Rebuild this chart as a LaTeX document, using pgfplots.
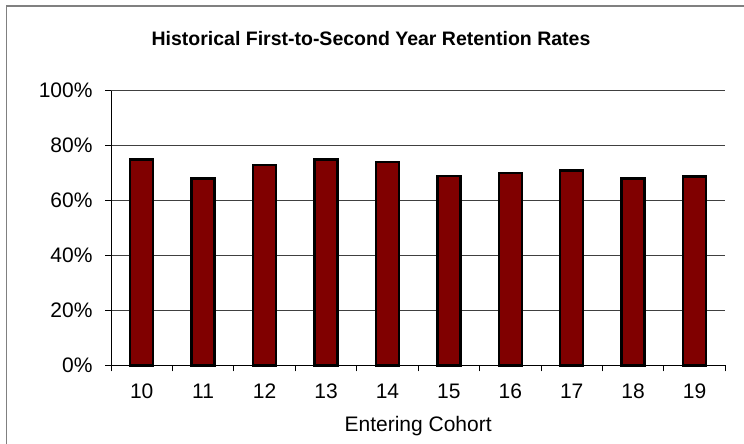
\documentclass[border=0pt]{standalone}
\usepackage{fontspec}
\setmainfont{Liberation Sans}
\usepackage{pgfplots}
\pgfplotsset{compat=1.18}
\definecolor{barred}{HTML}{800000}
\definecolor{framegray}{HTML}{808080}
\begin{document}
\begin{tikzpicture}[x=1pt,y=1pt]
\useasboundingbox (0,0) rectangle (744,-444);
\draw[framegray, line width=2pt] (6,-6) -- (744,-6);
\draw[framegray, line width=1.5pt] (6.5,-6) -- (6.5,-444);
\node[font=\fontsize{19.5}{23}\selectfont\bfseries, anchor=base, inner sep=0pt] at (371,-45.3) {Historical First-to-Second Year Retention Rates};
\begin{axis}[
  at={(111pt,-365.3pt)}, anchor=south west,
  scale only axis, width=614.3pt, height=274.6pt,
  xmin=0.5, xmax=10.5, ymin=0, ymax=100,
  axis lines*=left,
  axis line style={black, line width=1pt},
  ybar, bar width=23pt,
  xtick={0.5,1.5,...,10.5},
  x tick label as interval,
  xticklabels={10,11,12,13,14,15,16,17,18,19},
  ytick={0,20,40,60,80,100},
  yticklabels={0\%,20\%,40\%,60\%,80\%,100\%},
  tick align=outside,
  major tick length=6pt,
  tick style={black, line width=1pt},
  ymajorgrids,
  grid style={black!75, line width=1pt},
  ticklabel style={font=\fontsize{21}{24}\selectfont},
  xticklabel style={yshift=-9pt},
  yticklabel style={xshift=-9pt},
  xlabel={Entering Cohort},
  xlabel style={font=\fontsize{21}{24}\selectfont, at={(axis description cs:0.5,0)}, anchor=base, yshift=-65.7pt},
  clip=false,
]
\addplot[fill=barred, draw=black, line width=2.4pt] coordinates {
  (1,75) (2,68) (3,73) (4,75) (5,74) (6,69) (7,70) (8,71) (9,68) (10,68.7)
};
\end{axis}
\end{tikzpicture}
\end{document}
